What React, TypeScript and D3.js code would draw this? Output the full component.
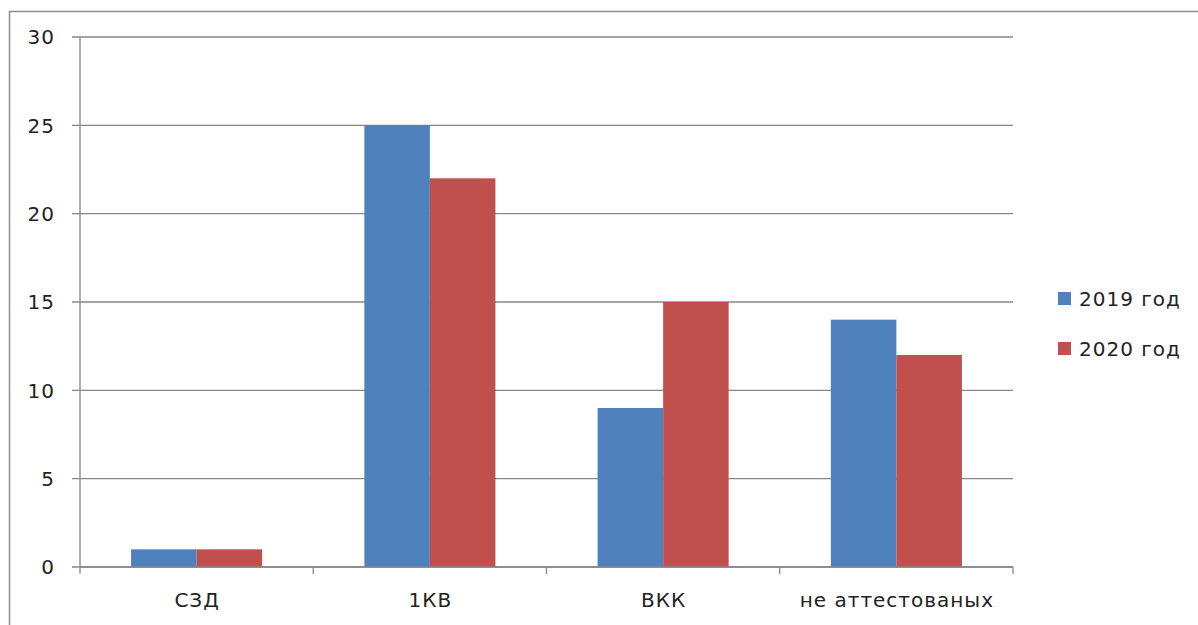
import React from "react";
import * as d3 from "d3";

const categories = ["СЗД", "1КВ", "ВКК", "не аттестованых"];
const seriesNames = ["2019 год", "2020 год"];
const values2019 = [1, 25, 9, 14];
const values2020 = [1, 22, 15, 12];
const yTicks = [0, 5, 10, 15, 20, 25, 30];
const colors = ["#4F81BD", "#C0504D"];

const W = 1198, H = 625;
const plot = { left: 80, right: 1013, top: 37, bottom: 567 };
const font = "'DejaVu Sans', Verdana, sans-serif";

export default function App() {
  const x = d3.scaleBand<string>().domain(categories).range([plot.left, plot.right]).paddingInner(0).paddingOuter(0);
  const inner = d3.scaleBand<string>().domain(seriesNames).range([0, x.bandwidth()]).paddingInner(0).paddingOuter(0.78);
  const y = d3.scaleLinear().domain([0, 30]).range([plot.bottom, plot.top]);
  const series = [values2019, values2020];
  const boundaries = d3.range(categories.length + 1).map(i => plot.left + i * x.step());
  const textStyle = { fontFamily: font, fontSize: 20, fill: "#222", letterSpacing: "1px" };

  return (
    <svg width={W} height={H} style={{ position: "absolute", left: 0, top: 0, background: "#fff" }}>
      <rect x={9.5} y={11.5} width={W + 10} height={H + 10} fill="#fff" stroke="#8c8c8c" strokeWidth={1.5} />
      {yTicks.map(t => (
        <g key={t}>
          <line x1={72} x2={plot.right} y1={y(t)} y2={y(t)} stroke="#878787" strokeWidth={1.3} />
          <text x={55} y={y(t)} dy="0.36em" textAnchor="end" style={textStyle}>{t}</text>
        </g>
      ))}
      {categories.map((c, ci) =>
        series.map((vals, si) => (
          <rect key={c + si} x={x(c)! + inner(seriesNames[si])!} width={inner.bandwidth()} y={y(vals[ci])} height={y(0) - y(vals[ci])} fill={colors[si]} />
        ))
      )}
      <line x1={plot.left} x2={plot.left} y1={plot.top} y2={plot.bottom} stroke="#878787" strokeWidth={1.3} />
      <line x1={plot.left} x2={plot.right} y1={plot.bottom} y2={plot.bottom} stroke="#878787" strokeWidth={1.3} />
      {boundaries.map((b, i) => (
        <line key={i} x1={b} x2={b} y1={plot.bottom} y2={plot.bottom + 7} stroke="#878787" strokeWidth={1.3} />
      ))}
      {categories.map(c => (
        <text key={c} x={x(c)! + x.bandwidth() / 2 + 0.5} y={607} textAnchor="middle" style={textStyle}>{c}</text>
      ))}
      {seriesNames.map((s, i) => (
        <g key={s}>
          <rect x={1058} y={292 + i * 50} width={13} height={13} fill={colors[i]} />
          <text x={1079} y={298.5 + i * 50} dy="0.36em" style={textStyle}>{s}</text>
        </g>
      ))}
    </svg>
  );
}
